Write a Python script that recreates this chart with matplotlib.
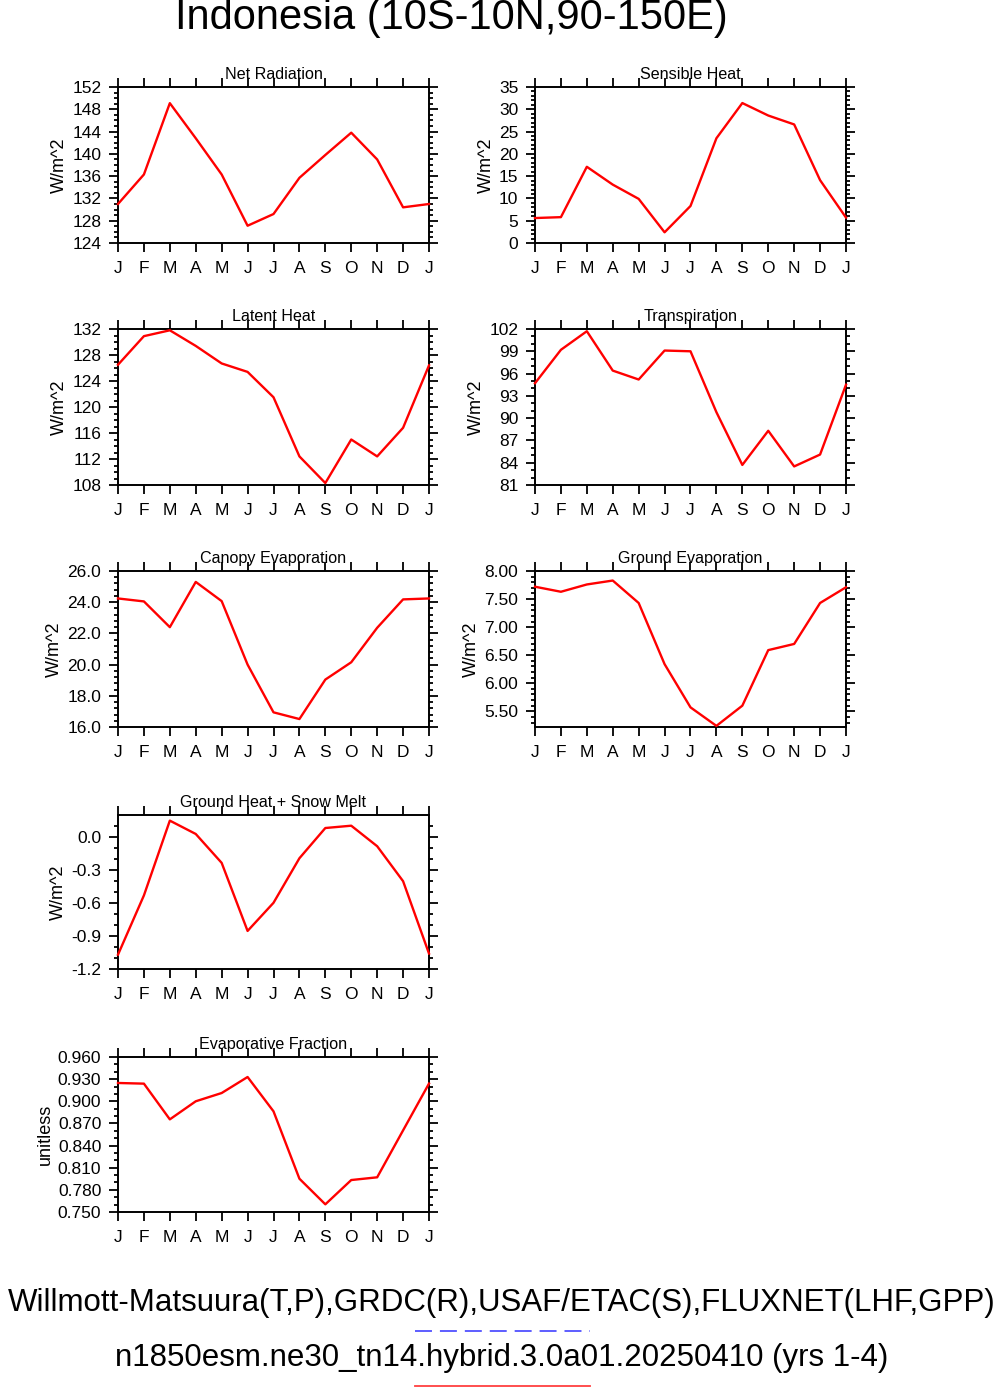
import numpy as np
import matplotlib
matplotlib.use("Agg")
import matplotlib.pyplot as plt
from matplotlib.ticker import MultipleLocator, FormatStrFormatter
from matplotlib.lines import Line2D

plt.rcParams["font.family"] = ["Liberation Sans", "DejaVu Sans"]

months = ["J", "F", "M", "A", "M", "J", "J", "A", "S", "O", "N", "D", "J"]

net_rad = [131.0, 136.3, 149.1, 142.8, 136.3, 127.1, 129.2, 135.7, 139.8, 143.8, 139.0, 130.4, 131.0]
sens_heat = [5.6, 5.8, 17.1, 13.1, 9.9, 2.4, 8.3, 23.5, 31.4, 28.6, 26.6, 14.1, 5.7]
lat_heat = [126.5, 130.9, 131.8, 129.4, 126.7, 125.4, 121.5, 112.4, 108.3, 115.0, 112.4, 116.8, 126.4]
transp = [94.7, 99.2, 101.7, 96.4, 95.2, 99.1, 99.0, 90.8, 83.7, 88.3, 83.5, 85.1, 94.5]
canopy_ev = [24.24, 24.05, 22.4, 25.3, 24.07, 20.0, 16.94, 16.51, 19.04, 20.15, 22.36, 24.18, 24.24]
ground_ev = [7.72, 7.63, 7.76, 7.83, 7.43, 6.34, 5.57, 5.24, 5.60, 6.59, 6.70, 7.43, 7.71]
ground_heat = [-1.07, -0.533, 0.145, 0.024, -0.238, -0.855, -0.60, -0.196, 0.078, 0.099, -0.087, -0.404, -1.06]
evap_frac = [0.9248, 0.9239, 0.8755, 0.900, 0.9112, 0.9329, 0.8864, 0.7951, 0.7604, 0.7933, 0.797, 0.8606, 0.924]

# (titel, data, ylabel, ylim, major, minor, format, kolom, rij)
panelen = [
    ("Net Radiation", net_rad, "W/m^2", (124, 152), 4, 1, "%d", 0, 0),
    ("Sensible Heat", sens_heat, "W/m^2", (0, 35), 5, 1, "%d", 1, 0),
    ("Latent Heat", lat_heat, "W/m^2", (108, 132), 4, 1, "%d", 0, 1),
    ("Transpiration", transp, "W/m^2", (81, 102), 3, 1, "%d", 1, 1),
    ("Canopy Evaporation", canopy_ev, "W/m^2", (16, 26), 2, 0.4, "%.1f", 0, 2),
    ("Ground Evaporation", ground_ev, "W/m^2", (5.22, 8.0), 0.5, 0.1, "%.2f", 1, 2),
    ("Ground Heat + Snow Melt", ground_heat, "W/m^2", (-1.2, 0.196), 0.3, 0.1, "%.1f", 0, 3),
    ("Evaporative Fraction", evap_frac, "unitless", (0.75, 0.96), 0.03, 0.01, "%.3f", 0, 4),
]

W, H = 1004, 1388
kolom_x = [118, 535]
rij_y = [(87, 243), (329, 485), (571, 727), (815, 969), (1057, 1212)]
breedte = 311

fig = plt.figure(figsize=(W / 100, H / 100), dpi=100)

x = np.arange(len(months))
for titel, data, ylab, ylim, major, minor, fmt, kol, rij in panelen:
    top, bot = rij_y[rij]
    ax = fig.add_axes([kolom_x[kol] / W, 1 - bot / H, breedte / W, (bot - top) / H])
    ax.plot(x, data, color="red", linewidth=1.7, clip_on=False, zorder=3)
    ax.set_xlim(0, 12)
    ax.set_ylim(*ylim)
    ax.set_xticks(x)
    ax.set_xticklabels(months)
    ax.yaxis.set_major_locator(MultipleLocator(major))
    ax.yaxis.set_minor_locator(MultipleLocator(minor))
    ax.yaxis.set_major_formatter(FormatStrFormatter(fmt))
    ax.tick_params(which="both", direction="out", top=True, right=True, width=1.3, labelsize=12.5)
    ax.tick_params(which="major", length=6.5, pad=5.5)
    ax.tick_params(axis="x", which="major", pad=6.5)
    ax.tick_params(which="minor", length=3)
    ax.tick_params(axis="x", which="minor", bottom=False, top=False)
    for sp in ax.spines.values():
        sp.set_linewidth(1.4)
    ax.set_title(titel, fontsize=11.6, pad=6)
    ax.set_ylabel(ylab, fontsize=13, labelpad=3)

fig.text(451 / W, 1 - 18 / H, "Indonesia (10S-10N,90-150E)", fontsize=30, ha="center", va="center")
fig.text(502 / W, 1 - 1303 / H, "Willmott-Matsuura(T,P),GRDC(R),USAF/ETAC(S),FLUXNET(LHF,GPP)",
         fontsize=22.5, ha="center", va="center")
fig.text(502 / W, 1 - 1358 / H, "n1850esm.ne30_tn14.hybrid.3.0a01.20250410 (yrs 1-4)",
         fontsize=22.5, ha="center", va="center")

# legenda-lijnen onder de tekst
fig.add_artist(Line2D([415 / W, 590 / W], [1 - 1331 / H, 1 - 1331 / H], transform=fig.transFigure,
                      color="#5050ff", linewidth=1.3, linestyle=(0, (9.4, 4.4))))
fig.add_artist(Line2D([415 / W, 590 / W], [1 - 1386 / H, 1 - 1386 / H], transform=fig.transFigure,
                      color="#ff4040", linewidth=1.3))

fig.savefig("out.png", dpi=100)
